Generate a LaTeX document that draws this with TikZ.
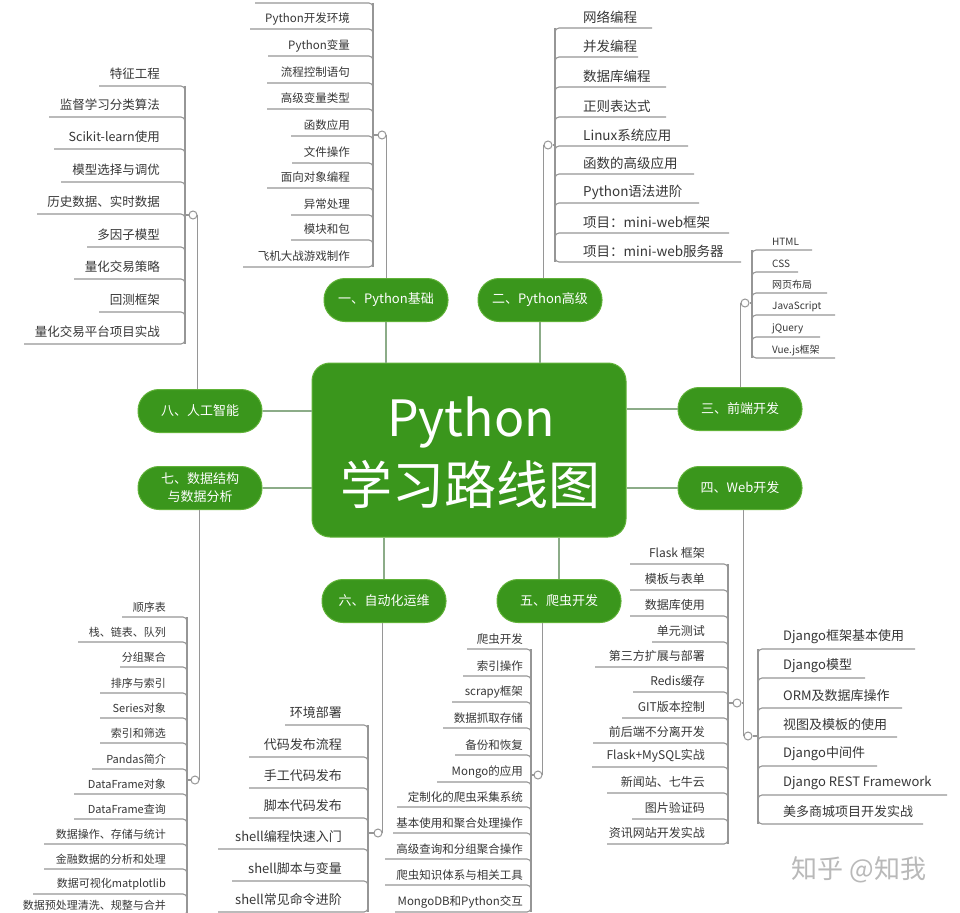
\documentclass[tikz,border=0pt]{standalone}
\usepackage{fontspec}
\setmainfont{Noto Sans CJK SC}
\definecolor{mg}{RGB}{58,150,28}
\definecolor{mgb}{RGB}{96,178,56}
\definecolor{cl}{RGB}{140,172,136}
\definecolor{ll}{RGB}{150,150,150}
\definecolor{tx}{RGB}{55,55,55}
\definecolor{wm}{RGB}{185,185,185}
% text left of bracket
\newcommand{\mmL}[8]{%
  \draw[lline] (#2,#6) -- (#2,#7);
  \foreach \yy/\xl/\txt [count=\k] in {#8} {%
    \ifnum\yy<#7\relax
      \draw[lline, rounded corners=4pt] (\xl,\yy) -- (#2,\yy) -- (#2,\yy+10);
    \else
      \draw[lline, rounded corners=4pt] (\xl,\yy) -- (#2,\yy) -- (#2,\yy-10);
    \fi
    \node[itemL, font=\fontsize{#5}{#5}\selectfont] (#1-\k) at (#3,\yy-#4) {\txt};
  }}
% text right of bracket
\newcommand{\mmR}[8]{%
  \draw[lline] (#2,#6) -- (#2,#7);
  \foreach \yy/\xl/\txt [count=\k] in {#8} {%
    \ifnum\yy<#7\relax
      \draw[lline, rounded corners=4pt] (\xl,\yy) -- (#2,\yy) -- (#2,\yy+10);
    \else
      \draw[lline, rounded corners=4pt] (\xl,\yy) -- (#2,\yy) -- (#2,\yy-10);
    \fi
    \node[itemR, font=\fontsize{#5}{#5}\selectfont] (#1-\k) at (#3,\yy-#4) {\txt};
  }}
\begin{document}
\begin{tikzpicture}[x=1pt,y=-1pt,
 pill/.style={fill=mg, draw=mgb, line width=1pt, rounded corners=21pt, minimum width=124pt, minimum height=43pt, text=white, font=\fontsize{13}{18}\selectfont, inner sep=0pt, align=center},
 cline/.style={draw=cl, line width=1.8pt},
 lline/.style={draw=ll, line width=1.1pt},
 dot/.style={circle, draw=ll, fill=white, line width=1pt, minimum size=8pt, inner sep=0pt},
 itemL/.style={anchor=east, inner sep=0pt, text=tx},
 itemR/.style={anchor=west, inner sep=0pt, text=tx}]
\clip (0,0) rectangle (960,912);
\fill[white] (0,0) rectangle (960,912);

\coordinate (cp1) at (386,300);
\coordinate (cp2) at (540,300);
\coordinate (cp8) at (200,411);
\coordinate (cp7) at (200,488);
\coordinate (cp3) at (740,409);
\coordinate (cp4) at (740,488);
\coordinate (cp6) at (384,601);
\coordinate (cp5) at (559,601);

% ---- lists
\mmL{a8}{185}{160}{12}{12.5}{86}{344}{86/99/特征工程, 117/49/监督学习分类算法, 149/54/Scikit-learn使用, 182/61/模型选择与调优, 214/37/历史数据、实时数据, 247/87/多因子模型, 279/74/量化交易策略, 312/99/回测框架, 344/24/量化交易平台项目实战}

\mmL{a1}{373}{350}{10.5}{11.5}{3}{267}{3/255/{}, 29/250/Python开发环境, 56/268/Python变量, 83/267/流程控制语句, 109/267/高级变量类型, 136/291/函数应用, 163/292/文件操作, 188/267/面向对象编程, 215/291/异常处理, 240/291/模块和包, 267/243/飞机大战游戏制作}

\mmR{a2}{555}{583}{11}{13.5}{28}{262}{28/652/网络编程, 57/638/并发编程, 87/666/数据库编程, 117/666/正则表达式, 146/688/Linux系统应用, 174/694/函数的高级应用, 203/699/Python语法进阶, 233/729/项目：mini-web框架, 262/741/项目：mini-web服务器}

\mmR{a3}{752}{772}{8}{10}{250}{358}{250/812/HTML, 272/798/CSS, 293/827/网页布局, 315/835/JavaScript, 337/820/jQuery, 358/835/Vue.js框架}

\mmL{a4}{728}{705}{11}{12}{564}{844}{564/630/Flask 框架, 590/630/模板与表单, 616/630/数据库使用, 642/652/单元测试, 667/595/第三方扩展与部署, 692/633/Redis缓存, 718/622/GIT版本控制, 743/593/前后端不分离开发, 767/592/Flask+MySQL实战, 793/607/新闻站、七牛云, 819/632/图片验证码, 844/607/资讯网站开发实战}

\mmR{b4}{758}{783}{12}{13}{649}{824}{649/915/Django框架基本使用, 678/865/Django模型, 708/902/ORM及数据库操作, 737/897/视图及模板的使用, 766/877/Django中间件, 795/947/Django REST Framework, 824/923/美多商城项目开发实战}

\mmL{a5}{531}{523}{10}{11.5}{649}{912}{649/467/爬虫开发, 676/463/索引操作, 702/452/scrapy框架, 728/443/数据抓取存储, 755/455/备份和恢复, 782/437/Mongo的应用, 807/397/定制化的爬虫采集系统, 833/393/基本使用和聚合处理操作, 859/385/高级查询和分组聚合操作, 885/385/爬虫知识体系与相关工具, 912/395/MongoDB和Python交互}

\mmL{a6}{368}{342}{12}{13}{725}{912}{725/285/环境部署, 757/249/代码发布流程, 788/249/手工代码发布, 818/249/脚本代码发布, 849/218/shell编程快速入门, 881/232/shell脚本与变量, 912/218/shell常见命令进阶}

\mmL{a7}{187}{166}{10}{11}{617}{915}{617/122/顺序表, 642/78/栈、链表、队列, 667/120/分组聚合, 693/100/排序与索引, 718/100/Series对象, 743/100/索引和筛选, 769/92/Pandas简介, 794/74/DataFrame对象, 819/74/DataFrame查询, 844/44/数据操作、存储与统计, 869/44/金融数据的分析和处理, 894/33/数据可视化matplotlib, 915/25/数据预处理清洗、规整与合并}

% ---- center box and branch nodes
\node[fill=mg, draw=mgb, line width=1pt, rounded corners=18pt, minimum width=314pt, minimum height=174pt] (C) at (469,450) {};
\node[text=white, font=\fontsize{50}{50}\selectfont, inner sep=0pt] (Ct1) at (471,422) {Python};
\node[text=white, font=\fontsize{52}{52}\selectfont, inner sep=0pt] (Ct2) at (470,485) {学习路线图};

\node[pill] (p1) at (cp1) {一、Python基础};
\node[pill] (p2) at (cp2) {二、Python高级};
\node[pill] (p8) at (cp8) {八、人工智能};
\node[pill] (p7) at (cp7) {七、数据结构\\与数据分析};
\node[pill] (p3) at (cp3) {三、前端开发};
\node[pill] (p4) at (cp4) {四、Web开发};
\node[pill] (p6) at (cp6) {六、自动化运维};
\node[pill] (p5) at (cp5) {五、爬虫开发};

\draw[cline] (p1.south) -- (p1.south |- C.north);
\draw[cline] (p2.south) -- (p2.south |- C.north);
\draw[cline] (p8.east) -- (p8.east -| C.west);
\draw[cline] (p7.east) -- (p7.east -| C.west);
\draw[cline] (p3.west) -- (p3.west -| C.east);
\draw[cline] (p4.west) -- (p4.west -| C.east);
\draw[cline] (p6.north) -- (p6.north |- C.south);
\draw[cline] (p5.north) -- (p5.north |- C.south);

% ---- collapse dots and trunks
\node[dot] (d8) at (193,215) {};
\draw[lline] (185,215) -- (d8.west);
\draw[lline] (d8.east) -- (d8.east |- p8.north);

\node[dot] (d1) at (382,135) {};
\draw[lline] (373,135) -- (d1.west);
\draw[lline] (d1.east) -- (d1.east |- p1.north);

\node[dot] (d2) at (548,145) {};
\draw[lline] (555,145) -- (d2.east);
\draw[lline] (d2.west) -- (d2.west |- p2.north);

\node[dot] (d3) at (745,303) {};
\draw[lline] (752,303) -- (d3.east);
\draw[lline] (d3.west) -- (d3.west |- p3.north);

\node[dot] (dD) at (748,736) {};
\node[dot] (dF) at (737,703) {};
\draw[lline] (758,736) -- (dD.east);
\draw[lline] (728,703) -- (dF.west);
\draw[lline] (dD.west) -- (dD.west |- p4.south);
\draw[lline] (dF.east) -- (dF.east -| dD.west);

\node[dot] (d5) at (538,775) {};
\draw[lline] (531,775) -- (d5.west);
\draw[lline] (d5.east) -- (d5.east |- p5.south);

\node[dot] (d6) at (378,833) {};
\draw[lline] (368,833) -- (d6.west);
\draw[lline] (d6.east) -- (d6.east |- p6.south);

\node[dot] (d7) at (195,780) {};
\draw[lline] (187,780) -- (d7.west);
\draw[lline] (d7.east) -- (d7.east |- p7.south);

% ---- watermark
\node[text=wm, font=\fontsize{26}{26}\selectfont, inner sep=0pt] (wmk) at (859,870) {知乎 @知我};
\end{tikzpicture}
\end{document}
